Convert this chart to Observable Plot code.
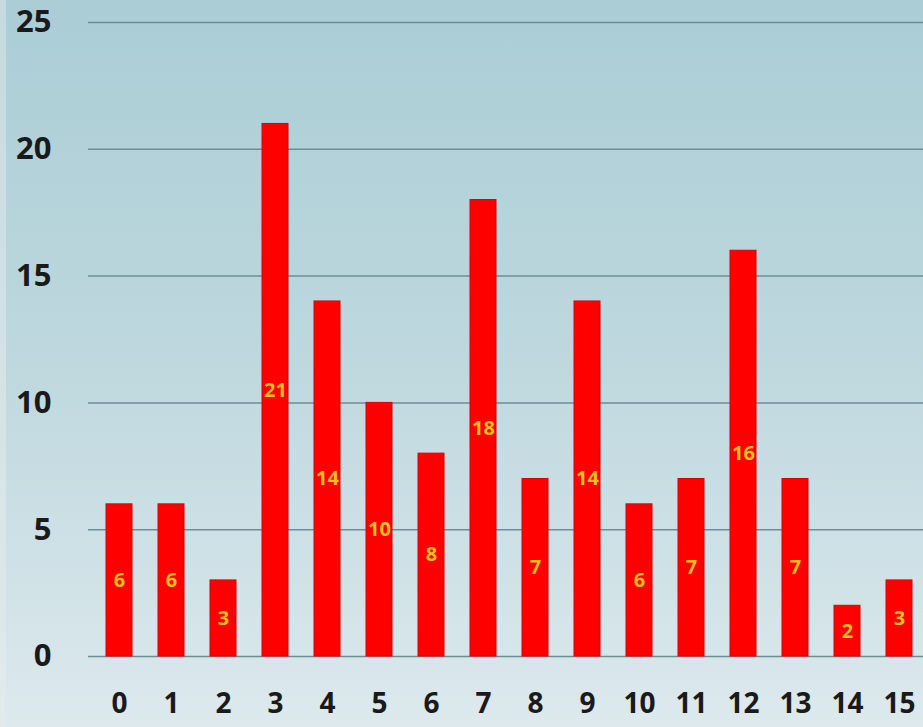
<!DOCTYPE html>
<html><head><meta charset="utf-8">
<script src="https://cdn.jsdelivr.net/npm/d3@7"></script>
<script src="https://cdn.jsdelivr.net/npm/@observablehq/plot@0.6"></script>
<style>
html,body{margin:0;padding:0;}
body{width:923px;height:727px;overflow:hidden;position:relative;background:linear-gradient(to bottom,#aacdd5 0%,#bed8de 50%,#dde9ed 100%);}
body::before{content:"";position:absolute;left:0;top:0;width:6px;height:727px;background:linear-gradient(to bottom,#c5dade,#e2eaec);}
#chart{position:relative;}
#chart svg{display:block;background:transparent;}
</style></head>
<body><div id="chart"></div>
<script>
const categories = [0,1,2,3,4,5,6,7,8,9,10,11,12,13,14,15];
const counts = [6,6,3,21,14,10,8,18,7,14,6,7,16,7,2,3];
const yTicks = [0,5,10,15,20,25];

const data = categories.map((c,i)=>({cat:String(c), value:counts[i]}));

const plot = Plot.plot({
  width: 923,
  height: 727,
  marginLeft: 88,
  marginRight: 0,
  marginTop: 22,
  marginBottom: 71,
  style: {background:"transparent", fontFamily:"'Open Sans', sans-serif"},
  x: {domain: categories.map(String), range:[88,929], paddingInner:0.5, paddingOuter:0.244, label:null},
  y: {domain:[0,25], label:null},
  marks: [
    Plot.gridY(yTicks, {stroke:"#6e8d95", strokeOpacity:1, strokeWidth:1.5}),
    Plot.axisY(yTicks, {tickSize:0, tickPadding:37, fontSize:31, fontWeight:"bold", fill:"#1a1a1a", label:null}),
    Plot.axisX({tickSize:0, tickPadding:37, fontSize:28, fontWeight:"bold", fill:"#1a1a1a", label:null}),
    Plot.barY(data, {x:"cat", y:"value", fill:"#ff0000", stroke:"#e00000", strokeWidth:1}),
    Plot.text(data, {x:"cat", y:d=>d.value/2, text:d=>String(d.value), fill:"#f4c01e", fontSize:20, fontWeight:"bold"})
  ]
});
document.getElementById("chart").appendChild(plot);
</script>
</body></html>
